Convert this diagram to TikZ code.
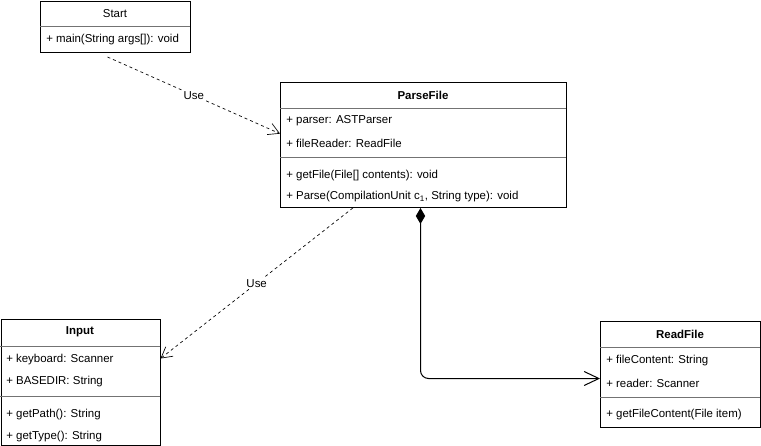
\documentclass[tikz,border=0pt]{standalone}
\usepackage{fontspec}
\setmainfont{Liberation Sans}
\usetikzlibrary{arrows.meta}

\tikzset{
	box/.style={draw, line width=0.75pt, inner sep=0pt, anchor=north west},
	sep/.style={draw=black!55, line width=0.75pt},
	ttl/.style={inner sep=0pt, font=\fontsize{8.6pt}{10pt}\selectfont\bfseries},
	row/.style={inner sep=0pt, anchor=west},
	uses/.style={draw, line width=0.5pt, dash pattern=on 2.25pt off 2.25pt, -{Straight Barb[length=8pt,width=9pt]}},
	owns/.style={draw, line width=0.75pt, rounded corners=6pt, {Diamond[length=12pt,width=7pt]}-{Straight Barb[length=11pt,width=10.5pt]}},
	lbl/.style={fill=white, inner sep=1pt, solid}
}

\begin{document}
\begin{tikzpicture}[x=0.75pt, y=-0.75pt, font=\fontsize{8.6pt}{10pt}\selectfont]
	\useasboundingbox (0,0) rectangle (761,446);

	% Start
	\node[box, minimum width=112.5pt, minimum height=38.25pt] (start) at (40,1) {};
	\node[inner sep=0pt] (startT) at (115,14) {Start};
	\draw[sep] (40,26) -- (190,26);
	\node[row] (startM) at (46,40) {+ main(String args[]): void};

	% ParseFile
	\node[box, minimum width=214.5pt, minimum height=93.75pt] (parse) at (280,82) {};
	\node[ttl] (parseT) at (423,95) {ParseFile};
	\draw[sep] (280,108) -- (566,108);
	\node[row] (parseA) at (286,121) {+ parser: ASTParser};
	\node[row] (parseB) at (286,143) {+ fileReader: ReadFile};
	\draw[sep] (280,157) -- (566,157);
	\node[row] (parseC) at (286,176) {+ getFile(File[] contents): void};
	\node[row] (parseD) at (286,197) {+ Parse(CompilationUnit c\textsubscript{1}, String type): void};

	% Input
	\node[box, minimum width=119.25pt, minimum height=94.5pt] (input) at (0.5,319) {};
	\node[ttl] (inputT) at (80,332) {Input};
	\draw[sep] (0,346) -- (160,346);
	\node[row] (inputA) at (6,360) {+ keyboard: Scanner};
	\node[row] (inputB) at (6,382) {+ BASEDIR: String};
	\draw[sep] (0,396) -- (160,396);
	\node[row] (inputC) at (6,415) {+ getPath(): String};
	\node[row] (inputD) at (6,437) {+ getType(): String};

	% ReadFile
	\node[box, minimum width=120pt, minimum height=79.5pt] (read) at (600,321) {};
	\node[ttl] (readT) at (680,334) {ReadFile};
	\draw[sep] (600,347) -- (760,347);
	\node[row] (readA) at (606,361) {+ fileContent: String};
	\node[row] (readB) at (606,383) {+ reader: Scanner};
	\draw[sep] (600,397) -- (760,397);
	\node[row] (readC) at (606,415) {+ getFileContent(File item)};

	% relations
	\draw[uses] ([xshift=-6pt,yshift=-3pt]start.south) -- node[lbl]{Use} ([yshift=8.5pt]parse.west);
	\draw[uses] ([xshift=-53pt]parse.south) -- node[lbl]{Use} ([yshift=18pt]input.east);
	\draw[owns] ([xshift=-2.25pt]parse.south) |- ([yshift=-3pt]read.west);
\end{tikzpicture}
\end{document}
